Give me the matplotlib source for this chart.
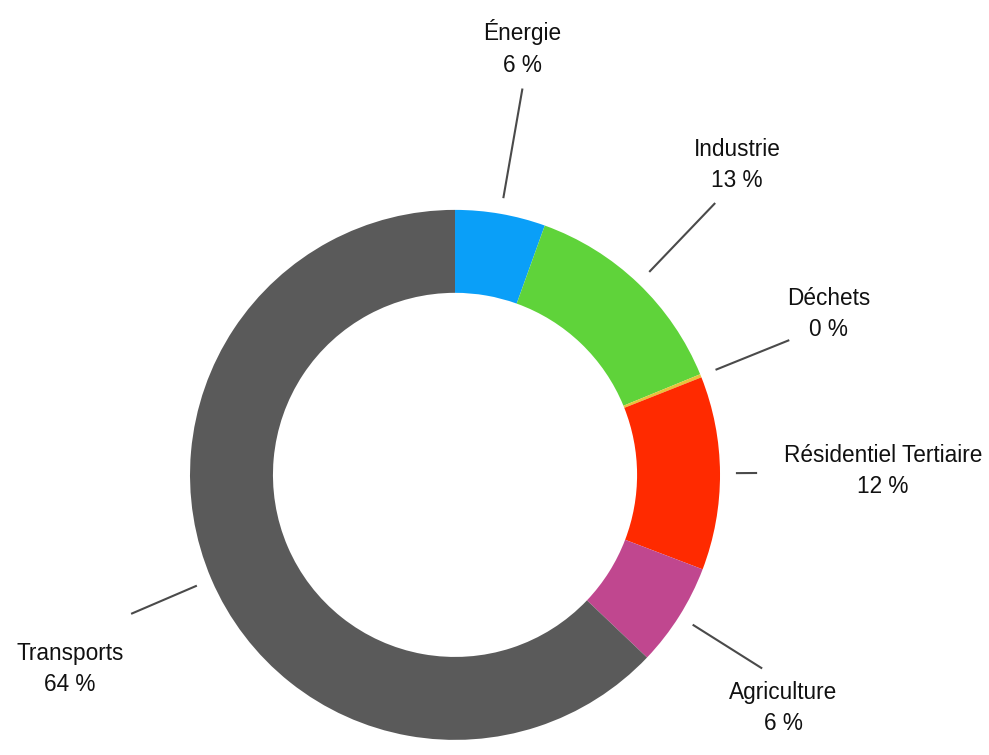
import numpy as np
import matplotlib.pyplot as plt

# Données
secteurs = ["Énergie", "Industrie", "Déchets", "Résidentiel Tertiaire", "Agriculture", "Transports"]
parts = [5.5, 13.3, 0.2, 11.8, 6.3, 62.9]
pct_affiche = [6, 13, 0, 12, 6, 64]
couleurs = ["#0a9ff8", "#5fd33a", "#e8c43a", "#ff2a00", "#c0478f", "#5a5a5a"]

# Mise en page des étiquettes
fin_trait = [1.48, 1.42, 1.36, 1.14, 1.37, 1.33]
pos_texte = [(0.253, 1.611), (1.064, 1.170), (1.411, 0.608),
             (1.615, 0.015), (1.238, -0.879), (-1.453, -0.732)]

plt.rcParams['font.family'] = ['Liberation Sans', 'DejaVu Sans']

fig = plt.figure(figsize=(9.89, 7.55), dpi=100)
ax = fig.add_axes([0, 0, 1, 1])

wedges, _ = ax.pie(parts, colors=couleurs, startangle=90, counterclock=False,
                   radius=1, wedgeprops=dict(width=0.313, linewidth=0))

for w, nom, p, r2, (tx, ty) in zip(wedges, secteurs, pct_affiche, fin_trait, pos_texte):
    ang = np.deg2rad((w.theta1 + w.theta2) / 2)
    x1, y1 = 1.06 * np.cos(ang), 1.06 * np.sin(ang)
    x2, y2 = r2 * np.cos(ang), r2 * np.sin(ang)
    ax.plot([x1, x2], [y1, y2], color="#4a4a4a", lw=1.5, solid_capstyle="butt")
    ax.text(tx, ty, f"{nom}\n{p} %", ha="center", va="center", fontsize=16.3,
            color="#111111", linespacing=1.45)

ax.set_xlim(-1.717, 2.015)
ax.set_ylim(-1.057, 1.792)
ax.set_aspect("equal")
ax.axis("off")

fig.savefig("out.png", dpi=100)
